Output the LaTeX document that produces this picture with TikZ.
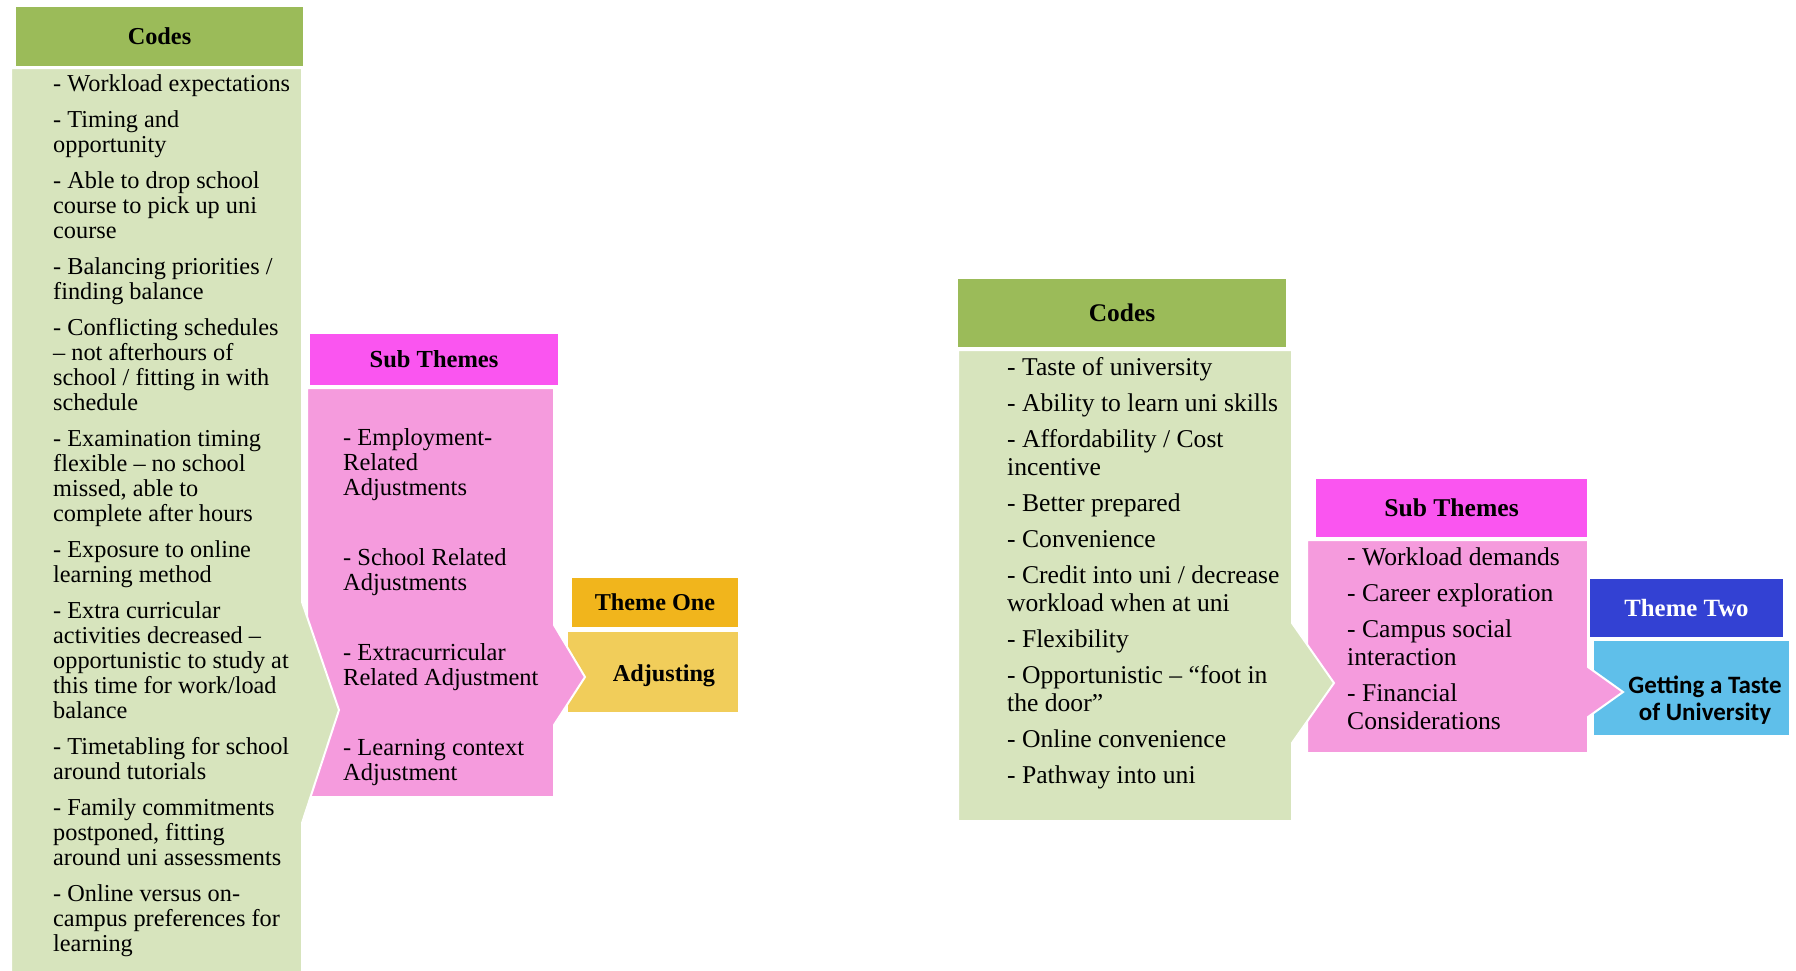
\documentclass[tikz,border=0pt]{standalone}
\usepackage{fontspec}
\setmainfont{Liberation Serif}
\newfontfamily\carlito{Carlito}

\definecolor{codehead}{HTML}{9BBB59}
\definecolor{codebody}{HTML}{D7E4BD}
\definecolor{subhead}{HTML}{FA55F0}
\definecolor{subbody}{HTML}{F59BDD}
\definecolor{themeonehead}{HTML}{F1B51C}
\definecolor{themeonebody}{HTML}{F1CD5A}
\definecolor{themetwohead}{HTML}{3341D3}
\definecolor{themetwobody}{HTML}{5FBFEA}

% a column of list lines: width, font size, line pitch, lines
\newcommand{\itemcolumn}[4]{\parbox[t]{#1}{\fontsize{#2}{#3}\selectfont\raggedright
  \lineskip=0pt\lineskiplimit=-100pt\relax #4}}

\tikzset{
  panel/.style={draw=white, line width=2pt, line join=miter},
  headbox/.style={draw=white, line width=1.5pt, inner sep=0pt,
    text height=16.5pt, text depth=0pt},
  listtext/.style={inner sep=0pt, anchor=base west},
}

\begin{document}
\begin{tikzpicture}[x=1pt, y=-1pt]
\useasboundingbox (0,0) rectangle (1796,970);

% ---------- Theme One ----------
\path[panel, fill=themeonebody] (567,631) rectangle (739,713);
\path[panel, fill=subbody] (307,388) -- (554,388) -- (554,625) -- (585,677)
  -- (554,725) -- (554,797) -- (307,797) -- cycle;
\path[panel, fill=codebody] (11,68) -- (302,68) -- (302,602) -- (339,710)
  -- (302,823) -- (302,974) -- (11,974) -- cycle;

\node[headbox, fill=codehead, minimum width=289pt, minimum height=61pt,
  font=\fontsize{24.3}{26}\selectfont\bfseries] (codesL) at (159.5,36.5) {Codes};
\node[headbox, fill=subhead, minimum width=250pt, minimum height=53pt,
  font=\fontsize{24.5}{26}\selectfont\bfseries] (subL) at (434,359.5) {Sub Themes};
\node[headbox, fill=themeonehead, minimum width=168pt, minimum height=51pt,
  font=\fontsize{24.2}{26}\selectfont\bfseries] (themeL) at (655,602.5) {Theme One};

\node[listtext] (codesLtext) at (53,91) {\itemcolumn{300pt}{24.3}{25}{%
- Workload expectations\\[11pt]
- Timing and\\ opportunity\\[11pt]
- Able to drop school\\ course to pick up uni\\ course\\[11pt]
- Balancing priorities /\\ finding balance\\[11pt]
- Conflicting schedules\\ – not afterhours of\\ school / fitting in with\\ schedule\\[11pt]
- Examination timing\\ flexible – no school\\ missed, able to\\ complete after hours\\[11pt]
- Exposure to online\\ learning method\\[11pt]
- Extra curricular\\ activities decreased –\\ opportunistic to study at\\ this time for work/load\\ balance\\[11pt]
- Timetabling for school\\ around tutorials\\[11pt]
- Family commitments\\ postponed, fitting\\ around uni assessments\\[11pt]
- Online versus on-\\ campus preferences for\\ learning}};

\node[listtext] (subLtext) at (343,445) {\itemcolumn{250pt}{24.5}{25}{%
- Employment-\\ Related\\ Adjustments\\[45pt]
- School Related\\ Adjustments\\[45pt]
- Extracurricular\\ Related Adjustment\\[45pt]
- Learning context\\ Adjustment}};

\node[inner sep=0pt, anchor=base, font=\fontsize{24.2}{26}\selectfont\bfseries]
  (themeLtext) at (664,681) {Adjusting};

% ---------- Theme Two ----------
\path[panel, fill=themetwobody] (1593,640) rectangle (1790,736);
\path[panel, fill=subbody] (1307,540) -- (1588,540) -- (1588,667) -- (1623,692)
  -- (1588,717) -- (1588,753) -- (1307,753) -- cycle;
\path[panel, fill=codebody] (958,350) -- (1292,350) -- (1292,623) -- (1334,683)
  -- (1292,743) -- (1292,821) -- (958,821) -- cycle;

\node[headbox, fill=codehead, minimum width=330pt, minimum height=70pt,
  font=\fontsize{25.4}{27}\selectfont\bfseries] (codesR) at (1122,313) {Codes};
\node[headbox, fill=subhead, minimum width=273pt, minimum height=60pt,
  font=\fontsize{25.6}{27}\selectfont\bfseries] (subR) at (1451.5,508) {Sub Themes};
\node[headbox, fill=themetwohead, minimum width=195pt, minimum height=60pt,
  text=white, font=\fontsize{24.8}{27}\selectfont\bfseries] (themeR) at (1686.5,608) {Theme Two};

\node[listtext] (codesRtext) at (1007,375) {\itemcolumn{300pt}{25.6}{28}{%
- Taste of university\\[8pt]
- Ability to learn uni skills\\[8pt]
- Affordability / Cost\\ incentive\\[8pt]
- Better prepared\\[8pt]
- Convenience\\[8pt]
- Credit into uni / decrease\\ workload when at uni\\[8pt]
- Flexibility\\[8pt]
- Opportunistic – “foot in\\ the door”\\[8pt]
- Online convenience\\[8pt]
- Pathway into uni}};

\node[listtext] (subRtext) at (1347,565) {\itemcolumn{250pt}{25.6}{28}{%
- Workload demands\\[8pt]
- Career exploration\\[8pt]
- Campus social\\ interaction\\[8pt]
- Financial\\ Considerations}};

\node[inner sep=0pt, anchor=base] (themeRtext) at (1705,693)
  {\parbox[t]{200pt}{\fontsize{25}{27}\selectfont\carlito\bfseries\centering
   Getting a Taste\\ of University}};
\end{tikzpicture}
\end{document}
